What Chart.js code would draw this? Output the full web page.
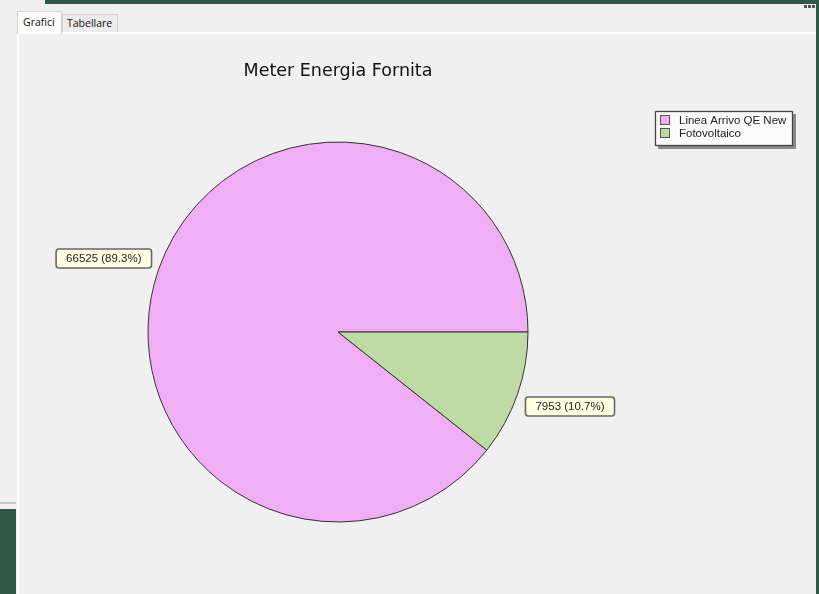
<!DOCTYPE html>
<html>
<head>
<meta charset="utf-8">
<script src="https://cdn.jsdelivr.net/npm/chart.js@4"></script>
<style>
  html, body { margin: 0; padding: 0; }
  body { width: 819px; height: 594px; background: #f0f0f0; position: relative; overflow: hidden; font-family: "Liberation Sans", Arial, sans-serif; }
  .green { position: absolute; background: #2f5849; }
  #topbar { left: 45px; top: 0; width: 774px; height: 4px; }
  #rightbar { left: 816px; top: 0; width: 3px; height: 594px; }
  #leftblock { left: 0; top: 509px; width: 16px; height: 85px; }
  #leftline { position: absolute; left: 0; top: 502px; width: 16px; height: 2px; background: #c9c9c9; }
  .dot { position: absolute; top: 5px; width: 3px; height: 3px; background: #555; }
  .tab { position: absolute; font-family: "Open Sans", sans-serif; font-size: 10.5px; color: #111; box-sizing: border-box; border: 1px solid #d4d4d4; border-bottom: none; }
  #tab1 { left: 17px; top: 11px; width: 45px; height: 23px; background: #fbfbfb; padding: 3px 0 0 5px; z-index: 2; }
  #tab2 { left: 62px; top: 14px; width: 56px; height: 19px; background: #ececec; padding: 1px 0 0 4px; }
  #panel { position: absolute; left: 17px; top: 32px; width: 799px; height: 562px; box-sizing: border-box; border-top: 2px solid #fdfdfd; border-left: 2px solid #fdfdfd; background: #f0f0f0; }
  #wrap { position: absolute; left: 19px; top: 34px; width: 797px; height: 560px; }
</style>
</head>
<body>
<div class="green" id="topbar"></div>
<div class="green" id="rightbar"></div>
<div id="leftline"></div>
<div class="green" id="leftblock"></div>
<div class="dot" style="left:804px"></div>
<div class="dot" style="left:808px"></div>
<div class="dot" style="left:812px"></div>
<div class="tab" id="tab1">Grafici</div>
<div class="tab" id="tab2">Tabellare</div>
<div id="panel"></div>
<div id="wrap"><canvas id="torta" width="797" height="560"></canvas></div>
<script>
// dati del grafico
const categorie = ['Linea Arrivo QE New', 'Fotovoltaico'];
const valori = [66525, 7953];
const colori = ['#f0aef4', '#bedba6'];
const titolo = 'Meter Energia Fornita';

const totale = valori.reduce((a, b) => a + b, 0);
// la fetta rosa finisce a ore 3, la verde parte da li in senso orario
const rotazione = 90 + valori[1] / totale * 360;

function roundRect(ctx, x, y, w, h, r) {
  ctx.beginPath();
  ctx.moveTo(x + r, y);
  ctx.lineTo(x + w - r, y);
  ctx.quadraticCurveTo(x + w, y, x + w, y + r);
  ctx.lineTo(x + w, y + h - r);
  ctx.quadraticCurveTo(x + w, y + h, x + w - r, y + h);
  ctx.lineTo(x + r, y + h);
  ctx.quadraticCurveTo(x, y + h, x, y + h - r);
  ctx.lineTo(x, y + r);
  ctx.quadraticCurveTo(x, y, x + r, y);
  ctx.closePath();
}

// etichette tipo callout e legenda con riquadro
const extraPlugin = {
  id: 'extra',
  afterDraw(chart) {
    const ctx = chart.ctx;
    const meta = chart.getDatasetMeta(0);
    ctx.save();
    ctx.font = '11.5px "Liberation Sans", Arial, sans-serif';
    ctx.textBaseline = 'middle';
    meta.data.forEach((arc, i) => {
      const mid = (arc.startAngle + arc.endAngle) / 2;
      const c = Math.cos(mid), s = Math.sin(mid);
      const ax = arc.x + c * (arc.outerRadius + 8);
      const ay = arc.y + s * (arc.outerRadius + 35);
      const txt = valori[i] + ' (' + (valori[i] / totale * 100).toFixed(1) + '%)';
      const w = ctx.measureText(txt).width + 20;
      const h = 19;
      const bx = c < 0 ? ax - w : ax;
      const by = ay - h / 2;
      roundRect(ctx, bx + 0.5, by + 0.5, w, h, 3);
      ctx.fillStyle = '#ffffe1';
      ctx.fill();
      ctx.lineWidth = 1.6;
      ctx.strokeStyle = '#666';
      ctx.stroke();
      ctx.fillStyle = '#222';
      ctx.textAlign = 'center';
      ctx.fillText(txt, bx + w / 2 + 0.5, by + h / 2 + 1);
    });

    // legenda
    const lx = 636, ly = 77, lw = 138, lh = 35;
    ctx.fillStyle = '#8a8a8a';
    ctx.fillRect(lx + 3, ly + 3, lw, lh);
    ctx.fillStyle = '#fbfbfb';
    ctx.fillRect(lx, ly, lw, lh);
    ctx.lineWidth = 1.3;
    ctx.strokeStyle = '#444';
    ctx.strokeRect(lx + 0.5, ly + 0.5, lw - 1, lh - 1);
    ctx.lineWidth = 1;
    ctx.textAlign = 'left';
    categorie.forEach((nome, i) => {
      const y = ly + 5 + i * 13;
      ctx.fillStyle = colori[i];
      ctx.fillRect(lx + 6, y, 8, 8);
      ctx.strokeStyle = '#555';
      ctx.strokeRect(lx + 5.5, y - 0.5, 9, 9);
      ctx.fillStyle = '#222';
      ctx.fillText(nome, lx + 24, y + 4.5);
    });
    ctx.restore();
  }
};

new Chart(document.getElementById('torta'), {
  type: 'pie',
  data: {
    labels: categorie,
    datasets: [{
      data: valori,
      backgroundColor: colori,
      borderColor: '#333',
      borderWidth: 1,
      radius: 190
    }]
  },
  options: {
    responsive: false,
    animation: false,
    rotation: rotazione,
    layout: { padding: { left: 0, right: 159, top: 0, bottom: 22 } },
    plugins: {
      legend: { display: false },
      tooltip: { enabled: false },
      title: {
        display: true,
        text: titolo,
        fullSize: false,
        color: '#111',
        font: { family: '"DejaVu Sans", Verdana, sans-serif', size: 17.5, weight: 'normal', lineHeight: 1.2 },
        padding: { top: 27, bottom: 10 }
      }
    }
  },
  plugins: [extraPlugin]
});
</script>
</body>
</html>
